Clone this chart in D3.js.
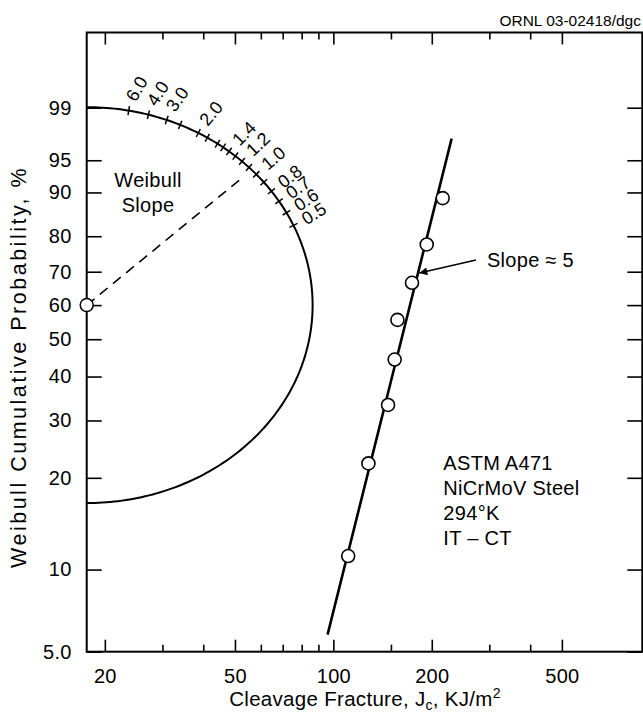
<!DOCTYPE html>
<html>
<head>
<meta charset="utf-8">
<script src="https://cdn.jsdelivr.net/npm/d3@7"></script>
<style>
body { margin: 0; background: #fff; }
svg { font-family: "Liberation Sans", Arial, Helvetica, sans-serif; }
</style>
</head>
<body>
<script>
// measured fracture toughness (KJ/m2) and their rank probability (%)
const failureKJ = [111, 128, 147, 154, 157, 174, 193, 216];
const failureProb = [11.1, 22.2, 33.3, 44.4, 55.6, 66.7, 77.8, 88.9];
// fitted Weibull line end points
const fitKJ = [96, 230];
const fitProb = [6.0, 97.2];
// axes
const xMajorTicks = [20, 50, 100, 200, 500];
const xMinorTicks = [30, 40, 60, 70, 80, 90, 150, 300, 400];
const yTicks = [5, 10, 20, 30, 40, 50, 60, 70, 80, 90, 95, 99];
const yTickLabels = ["5.0", "10", "20", "30", "40", "50", "60", "70", "80", "90", "95", "99"];
// Weibull slope nomograph
const slopeTicks = [6, 4, 3, 2.5, 2, 1.8, 1.6, 1.5, 1.4, 1.3, 1.2, 1.1, 1, 0.9, 0.8, 0.7, 0.6, 0.5];
const slopeLabels = [6, 4, 3, 2, 1.4, 1.2, 1, 0.8, 0.7, 0.6, 0.5];
const specimenNotes = ["ASTM A471", "NiCrMoV Steel", "294°K", "IT \u2013 CT"];

const W = 643, H = 715;
const margin = {top: 32.5, right: 0.7, bottom: 63.3, left: 86.7};
const xDomain = [17.6, 881];
const yDomain = [5.24, 99.98];
const FS = 20;

const wb = p => Math.log(-Math.log(1 - p / 100));

const x = d3.scaleLog().domain(xDomain).range([margin.left, W - margin.right]);
const y = d3.scaleLinear().domain(yDomain.map(wb))
    .range([H - margin.bottom, margin.top]).clamp(true);

const svg = d3.select("body").append("svg")
    .attr("width", W)
    .attr("height", H)
    .attr("letter-spacing", 0.3);

const x0 = x.range()[0], x1 = x.range()[1];
const y0 = y.range()[0], y1 = y.range()[1];

// axes (ticks point inward)
const gBottom = svg.append("g").attr("transform", `translate(0,${y0})`);
gBottom.call(d3.axisBottom(x).tickValues(xMajorTicks).tickSize(-12).tickPadding(17).tickFormat(d3.format("d")));
gBottom.append("g").call(d3.axisBottom(x).tickValues(xMinorTicks).tickSize(-7).tickFormat(""));

const gTop = svg.append("g").attr("transform", `translate(0,${y1})`);
gTop.call(d3.axisTop(x).tickValues(xMajorTicks).tickSize(-12).tickFormat(""));
gTop.append("g").call(d3.axisTop(x).tickValues(xMinorTicks).tickSize(-7).tickFormat(""));

const gLeft = svg.append("g").attr("transform", `translate(${x0},0)`);
gLeft.call(d3.axisLeft(y).tickValues(yTicks.map(wb)).tickSize(-15).tickPadding(15)
    .tickFormat((d, i) => yTickLabels[i]));

const gRight = svg.append("g").attr("transform", `translate(${x1},0)`);
gRight.call(d3.axisRight(y).tickValues(yTicks.map(wb)).tickSize(-15).tickFormat(""));

svg.selectAll(".domain").remove();
svg.selectAll(".tick line").attr("stroke", "#000").attr("stroke-width", 1.6);
svg.selectAll(".tick text").attr("font-size", FS).attr("fill", "#000")
    .attr("font-family", "Liberation Sans, Arial, sans-serif");

svg.append("rect")
    .attr("x", x0).attr("y", y1)
    .attr("width", x1 - x0).attr("height", y0 - y1)
    .attr("fill", "none").attr("stroke", "#000").attr("stroke-width", 2);

// axis titles
svg.append("text")
    .attr("x", 365).attr("y", 706)
    .attr("text-anchor", "middle").attr("font-size", 20.5)
    .html('Cleavage Fracture, J<tspan font-size="14" dy="4">c</tspan><tspan dy="-4">, KJ/m</tspan><tspan font-size="14" dy="-8">2</tspan>');

svg.append("text")
    .attr("transform", "translate(26,368) rotate(-90)")
    .attr("text-anchor", "middle").attr("font-size", 21.5)
    .attr("textLength", 400).attr("lengthAdjust", "spacing")
    .text("Weibull Cumulative Probability, %");

svg.append("text")
    .attr("x", 641).attr("y", 26)
    .attr("text-anchor", "end").attr("font-size", 15.5)
    .attr("letter-spacing", 0)
    .text("ORNL 03-02418/dgc");

// nomograph arc
const arcCenterKJ = xDomain[0], arcCenterProb = 60;
const arcRadiusDecades = 0.691, arcRadiusW = 1.619, slopeAngleK = 0.88;
const arcPoint = t => [
    x(arcCenterKJ * Math.pow(10, arcRadiusDecades * Math.cos(t))),
    y(wb(arcCenterProb) + arcRadiusW * Math.sin(t))
];
const arcT = d3.range(-90, 90.5, 1).map(d => d * Math.PI / 180);
svg.append("path")
    .attr("d", d3.line()(arcT.map(arcPoint)))
    .attr("fill", "none").attr("stroke", "#000").attr("stroke-width", 2);

function arcFrame(m) {
    const t = Math.atan(slopeAngleK * m);
    const p = arcPoint(t), a = arcPoint(t - 0.001), b = arcPoint(t + 0.001);
    let tx = b[0] - a[0], ty = b[1] - a[1];
    const len = Math.hypot(tx, ty);
    tx /= len; ty /= len;
    return {t, p, n: [-ty, tx]};
}

svg.append("g").selectAll("line")
    .data(slopeTicks)
    .join("line")
    .each(function (m) {
        const f = arcFrame(m);
        d3.select(this)
            .attr("x1", f.p[0] - f.n[0] * 4.5).attr("y1", f.p[1] - f.n[1] * 4.5)
            .attr("x2", f.p[0] + f.n[0] * 4.5).attr("y2", f.p[1] + f.n[1] * 4.5);
    })
    .attr("stroke", "#000").attr("stroke-width", 1.5);

svg.append("g").selectAll("text")
    .data(slopeLabels)
    .join("text")
    .attr("transform", m => {
        const f = arcFrame(m);
        const sx = f.p[0] + f.n[0] * 11, sy = f.p[1] + f.n[1] * 11;
        const rot = 20 + 0.5 * f.t * 180 / Math.PI;
        return `translate(${sx},${sy}) rotate(${-rot})`;
    })
    .attr("dominant-baseline", "central")
    .attr("font-size", 18)
    .attr("letter-spacing", 0)
    .text(m => m.toFixed(1));

svg.append("text")
    .attr("x", x(27.1)).attr("y", y(wb(92.2)))
    .attr("text-anchor", "middle").attr("dominant-baseline", "central")
    .attr("font-size", FS)
    .selectAll("tspan")
    .data(["Weibull", "Slope"])
    .join("tspan")
    .attr("x", x(27.1))
    .attr("dy", (d, i) => i ? 25 : 0)
    .text(d => d);

// dashed slope indicator from the 60% pivot
svg.append("line")
    .attr("x1", x(arcCenterKJ)).attr("y1", y(wb(arcCenterProb)))
    .attr("x2", x(53.1)).attr("y2", y(wb(92.7)))
    .attr("stroke", "#000").attr("stroke-width", 1.6)
    .attr("stroke-dasharray", "10,7");

svg.append("circle")
    .attr("cx", x(arcCenterKJ)).attr("cy", y(wb(arcCenterProb)))
    .attr("r", 6.5)
    .attr("fill", "#fff").attr("stroke", "#000").attr("stroke-width", 1.5);

// fitted line and data
svg.append("path")
    .attr("d", d3.line().x(d => x(d[0])).y(d => y(wb(d[1])))(fitKJ.map((k, i) => [k, fitProb[i]])))
    .attr("stroke", "#000").attr("stroke-width", 2.6).attr("fill", "none");

svg.append("g").selectAll("circle")
    .data(failureKJ)
    .join("circle")
    .attr("cx", d => x(d))
    .attr("cy", (d, i) => y(wb(failureProb[i])))
    .attr("r", 6.5)
    .attr("fill", "#fff").attr("stroke", "#000").attr("stroke-width", 1.6);

// slope annotation with arrow
svg.append("defs").append("marker")
    .attr("id", "arrow")
    .attr("viewBox", "0 0 10 10")
    .attr("refX", 10).attr("refY", 5)
    .attr("markerWidth", 11).attr("markerHeight", 8)
    .attr("markerUnits", "userSpaceOnUse")
    .attr("orient", "auto")
    .append("path").attr("d", "M0,0L10,5L0,10Z").attr("fill", "#000");

svg.append("line")
    .attr("x1", x(273)).attr("y1", y(wb(73.4)))
    .attr("x2", x(183.2)).attr("y2", y(wb(69.6)))
    .attr("stroke", "#000").attr("stroke-width", 1.6)
    .attr("marker-end", "url(#arrow)");

svg.append("text")
    .attr("x", x(295)).attr("y", y(wb(73.4)))
    .attr("dominant-baseline", "central").attr("font-size", FS)
    .text("Slope \u2248 5");

// specimen notes
svg.append("g").selectAll("text")
    .data(specimenNotes)
    .join("text")
    .attr("x", x(217))
    .attr("y", (d, i) => y(wb(22.2)) + i * 25)
    .attr("dominant-baseline", "central")
    .attr("font-size", FS)
    .text(d => d);
</script>
</body>
</html>
